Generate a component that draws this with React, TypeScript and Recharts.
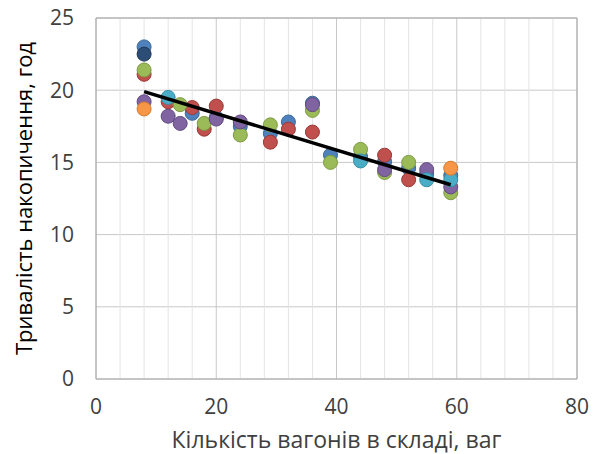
import React from 'react';
import {
  CartesianGrid,
  ReferenceLine,
  Scatter,
  ScatterChart,
  XAxis,
  YAxis,
} from 'recharts';

type Pt = { x: number; y: number };

// values, [x, y]
const blueSeries: Pt[] = [
  { x: 8, y: 23.0 }, { x: 16, y: 18.4 }, { x: 20, y: 18.1 }, { x: 24, y: 17.5 },
  { x: 29, y: 17.0 }, { x: 32, y: 17.8 }, { x: 36, y: 19.1 }, { x: 39, y: 15.5 },
  { x: 44, y: 15.4 }, { x: 48, y: 15.05 }, { x: 52, y: 14.6 }, { x: 55, y: 14.2 },
  { x: 59, y: 14.1 },
];
const redSeries: Pt[] = [
  { x: 8, y: 21.1 }, { x: 12, y: 19.2 }, { x: 16, y: 18.8 }, { x: 18, y: 17.3 },
  { x: 20, y: 18.9 }, { x: 29, y: 16.4 }, { x: 32, y: 17.3 }, { x: 36, y: 17.1 },
  { x: 48, y: 15.5 }, { x: 52, y: 13.8 },
];
const greenSeries: Pt[] = [
  { x: 8, y: 21.4 }, { x: 14, y: 19.0 }, { x: 18, y: 17.7 }, { x: 24, y: 16.9 },
  { x: 29, y: 17.6 }, { x: 36, y: 18.6 }, { x: 39, y: 15.0 }, { x: 44, y: 15.9 },
  { x: 48, y: 14.3 }, { x: 52, y: 15.0 }, { x: 59, y: 12.9 },
];
const purpleSeries: Pt[] = [
  { x: 8, y: 19.2 }, { x: 12, y: 18.2 }, { x: 14, y: 17.7 }, { x: 20, y: 18.0 },
  { x: 24, y: 17.8 }, { x: 36, y: 19.0 }, { x: 48, y: 14.5 }, { x: 55, y: 14.5 },
  { x: 59, y: 13.3 },
];
const cyanSeries: Pt[] = [
  { x: 12, y: 19.5 }, { x: 44, y: 15.1 }, { x: 55, y: 13.8 }, { x: 59, y: 13.8 },
];
const orangeSeries: Pt[] = [{ x: 8, y: 18.7 }, { x: 59, y: 14.6 }];
const darkBlueSeries: Pt[] = [{ x: 8, y: 22.5 }];

const trendLine: Pt[] = [{ x: 8, y: 19.9 }, { x: 59, y: 13.45 }];

const xTicks = [0, 20, 40, 60, 80];
const yTicks = [0, 5, 10, 15, 20, 25];
const minorX = [4, 8, 12, 16, 24, 28, 32, 36, 44, 48, 52, 56, 64, 68, 72, 76];

const FONT = '"Open Sans", "Noto Sans", sans-serif';

const series = [
  { data: blueSeries, fill: '#4F81BD', stroke: '#3A6798' },
  { data: redSeries, fill: '#C0504D', stroke: '#9B3936' },
  { data: greenSeries, fill: '#9BBB59', stroke: '#7C9A40' },
  { data: purpleSeries, fill: '#8064A2', stroke: '#634A83' },
  { data: cyanSeries, fill: '#4BACC6', stroke: '#3390A8' },
  { data: orangeSeries, fill: '#F79646', stroke: '#D77A2C' },
  { data: darkBlueSeries, fill: '#2C4D75', stroke: '#1F3857' },
];

const dot = (fill: string, stroke: string) => (props: any) => (
  <circle cx={props.cx} cy={props.cy} r={7} fill={fill} stroke={stroke} strokeWidth={1} />
);

export default function App() {
  return (
    <div>
      <style>{'body{margin:0}'}</style>
      <ScatterChart
        width={597}
        height={454}
        margin={{ top: 18, right: 20, bottom: 0, left: 0 }}
      >
        {minorX.map((v) => (
          <ReferenceLine key={v} x={v} stroke="#e4e4e4" strokeWidth={1} />
        ))}
        <CartesianGrid stroke="#c8c8c8" />
        <XAxis
          type="number"
          dataKey="x"
          domain={[0, 80]}
          ticks={xTicks}
          height={75}
          tickLine={false}
          tickSize={0}
          tickMargin={20}
          axisLine={{ stroke: '#a6a6a6' }}
          tick={{ fill: '#404040', fontSize: 21, fontFamily: FONT }}
          label={{
            value: 'Кількість вагонів в складі, ваг',
            position: 'insideBottom',
            offset: 6,
            fill: '#404040',
            fontSize: 23,
            fontFamily: FONT,
          }}
        />
        <YAxis
          type="number"
          dataKey="y"
          domain={[0, 25]}
          ticks={yTicks}
          width={96}
          tickLine={false}
          tickSize={0}
          tickMargin={22}
          axisLine={{ stroke: '#a6a6a6' }}
          tick={{ fill: '#404040', fontSize: 21, fontFamily: FONT }}
          label={{
            value: 'Тривалість накопичення, год',
            angle: -90,
            position: 'insideLeft',
            offset: 24,
            style: { textAnchor: 'middle' },
            fill: '#000',
            fontSize: 22,
            fontFamily: FONT,
          }}
        />
        <ReferenceLine x={80} stroke="#a6a6a6" />
        <ReferenceLine y={25} stroke="#a6a6a6" />
        {series.map((s, i) => (
          <Scatter
            key={i}
            data={s.data}
            isAnimationActive={false}
            shape={dot(s.fill, s.stroke)}
          />
        ))}
        <Scatter
          data={trendLine}
          isAnimationActive={false}
          line={{ stroke: '#000', strokeWidth: 3.5 }}
          shape={() => <g />}
        />
      </ScatterChart>
    </div>
  );
}
